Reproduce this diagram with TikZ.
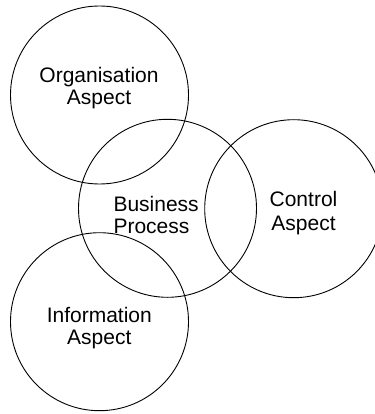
\documentclass[tikz,border=0pt]{standalone}
\usepackage{fontspec}
\setmainfont{Liberation Sans}
\begin{document}
\begin{tikzpicture}[x=1pt,y=-1pt,
  aspect/.style={circle,draw=black,line width=0.9pt,minimum size=178pt,inner sep=0pt},
  lbl/.style={inner sep=0pt,align=center,font=\fontsize{21}{21.5}\selectfont}]
\useasboundingbox (0,0) rectangle (374,414);
\node[aspect] (org) at (99.5,95) {};
\node[aspect] (bp) at (167.5,208.3) {};
\node[aspect] (ctl) at (293.7,208.7) {};
\node[aspect] (inf) at (99.5,321.7) {};
\node[lbl] (orgt) at (99,88) {Organisation\\Aspect};
\node[lbl,align=left,anchor=west] (bpt) at (113.3,215) {Business\\Process};
\node[lbl,font=\fontsize{21}{24}\selectfont] (ctlt) at (303.5,213) {Control\\Aspect};
\node[lbl] (inft) at (99.3,328) {Information\\Aspect};
\end{tikzpicture}
\end{document}
